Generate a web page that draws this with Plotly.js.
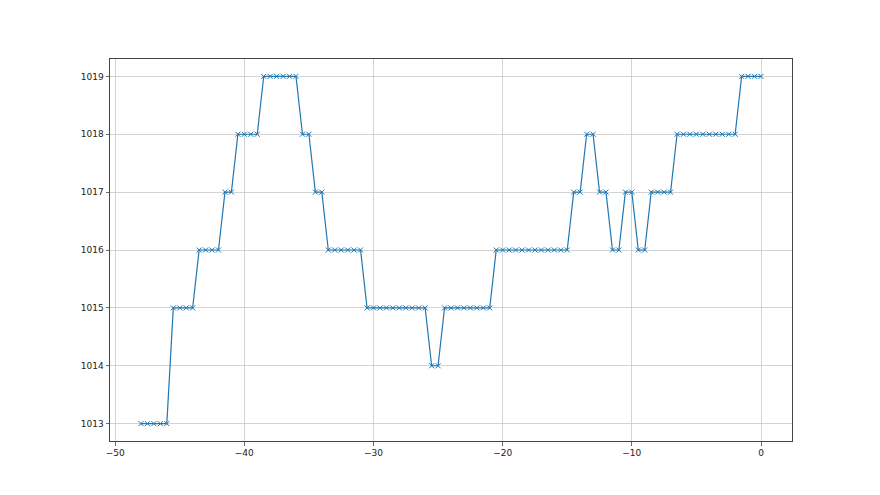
<!DOCTYPE html>
<html>
<head>
<meta charset="utf-8">
<script src="https://cdn.plot.ly/plotly-3.0.1.min.js"></script>
<style>html,body{margin:0;padding:0;background:#fff;}#chart{width:880px;height:495px;}</style>
</head>
<body>
<div id="chart"></div>
<script>
const xValues = [-48,-47.5,-47,-46.5,-46,-45.5,-45,-44.5,-44,-43.5,-43,-42.5,-42,-41.5,-41,-40.5,-40,-39.5,-39,-38.5,-38,-37.5,-37,-36.5,-36,-35.5,-35,-34.5,-34,-33.5,-33,-32.5,-32,-31.5,-31,-30.5,-30,-29.5,-29,-28.5,-28,-27.5,-27,-26.5,-26,-25.5,-25,-24.5,-24,-23.5,-23,-22.5,-22,-21.5,-21,-20.5,-20,-19.5,-19,-18.5,-18,-17.5,-17,-16.5,-16,-15.5,-15,-14.5,-14,-13.5,-13,-12.5,-12,-11.5,-11,-10.5,-10,-9.5,-9,-8.5,-8,-7.5,-7,-6.5,-6,-5.5,-5,-4.5,-4,-3.5,-3,-2.5,-2,-1.5,-1,-0.5,0];
const pressure = [1013,1013,1013,1013,1013,
  1015,1015,1015,1015,
  1016,1016,1016,1016,
  1017,1017,
  1018,1018,1018,1018,
  1019,1019,1019,1019,1019,1019,
  1018,1018,
  1017,1017,
  1016,1016,1016,1016,1016,1016,
  1015,1015,1015,1015,1015,1015,1015,1015,1015,1015,
  1014,1014,
  1015,1015,1015,1015,1015,1015,1015,1015,
  1016,1016,1016,1016,1016,1016,1016,1016,1016,1016,1016,1016,
  1017,1017,
  1018,1018,
  1017,1017,
  1016,1016,
  1017,1017,
  1016,1016,
  1017,1017,1017,1017,
  1018,1018,1018,1018,1018,1018,1018,1018,1018,1018,
  1019,1019,1019,1019];
const xTicks = [-50,-40,-30,-20,-10,0];
const yTicks = [1013,1014,1015,1016,1017,1018,1019];

const trace = {
  x: xValues, y: pressure, type: 'scatter', mode: 'lines+markers',
  line: {color: '#1f77b4', width: 1.2},
  marker: {symbol: 'x-thin-open', size: 5, color: '#1f77b4', line: {color: '#1f77b4', width: 1}},
  hoverinfo: 'skip'
};
const axisCommon = {
  showline: true, mirror: true, linecolor: '#444', linewidth: 1,
  ticks: 'outside', ticklen: 3.5, tickwidth: 0.8, tickcolor: '#444',
  showgrid: true, gridcolor: '#c8c8c8', gridwidth: 0.8, zeroline: false,
  tickfont: {family: 'DejaVu Sans', size: 9, color: '#222'}
};
const layout = {
  width: 880, height: 495,
  margin: {l: 110, r: 88, t: 59, b: 54},
  paper_bgcolor: '#fff', plot_bgcolor: '#fff',
  showlegend: false,
  xaxis: Object.assign({}, axisCommon, {range: [-50.4, 2.4], tickmode: 'array', tickvals: xTicks}),
  yaxis: Object.assign({}, axisCommon, {range: [1012.7, 1019.3], tickmode: 'array', tickvals: yTicks})
};
Plotly.newPlot('chart', [trace], layout, {staticPlot: true, displayModeBar: false});
</script>
</body>
</html>
